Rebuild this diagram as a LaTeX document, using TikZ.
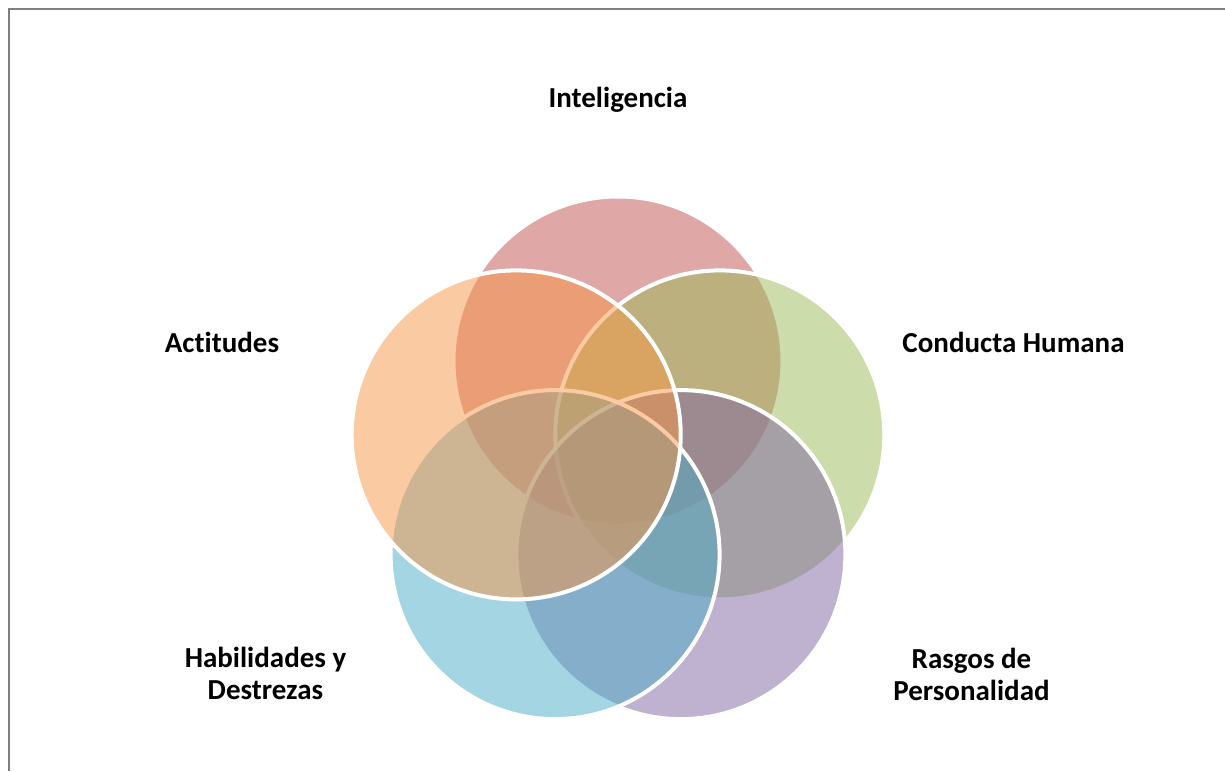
\documentclass[tikz,border=0pt]{standalone}
\usepackage{fontspec}
\setmainfont[Ligatures=NoCommon]{Carlito}
\definecolor{cred}{HTML}{C0504D}
\definecolor{cgreen}{HTML}{9BBB59}
\definecolor{cpurple}{HTML}{8064A2}
\definecolor{cblue}{HTML}{4BACC6}
\definecolor{corange}{HTML}{F79646}
\definecolor{frame}{HTML}{808080}
\begin{document}
\begin{tikzpicture}[x=1pt,y=-1pt,
  venn/.style={draw=white, line width=4pt, fill opacity=0.5, draw opacity=1},
  lbl/.style={font=\fontsize{29}{32}\selectfont\bfseries, inner sep=0pt, anchor=base, align=center}]
\useasboundingbox (0,0) rectangle (1225,771);
\fill[white] (0,0) rectangle (1225,771);
\draw[frame, line width=2pt] (8.5,771) -- (8.5,9) -- (1225,9);
% circles (drawing order: red, green, purple, blue, orange)
\coordinate (cR) at (618,361);
\coordinate (cG) at (719.8,434.9);
\coordinate (cP) at (680.9,554.6);
\coordinate (cB) at (555.1,554.6);
\coordinate (cO) at (516.2,434.9);
\draw[venn, fill=cred] (cR) circle[radius=164.5];
\draw[venn, fill=cgreen] (cG) circle[radius=164.5];
\draw[venn, fill=cpurple] (cP) circle[radius=164.5];
\draw[venn, fill=cblue] (cB) circle[radius=164.5];
\draw[venn, fill=corange] (cO) circle[radius=164.5];
% labels
\node[lbl] (tInt) at (618,107.5) {Inteligencia};
\node[lbl] (tCon) at (1013.5,352.7) {Conducta Humana};
\node[lbl] (tAct) at (222,352.7) {Ac\kern0ptti\kern0pttudes};
\node[lbl] (tHab) at (265.5,699) {Habilidades y\\Destrezas};
\node[lbl] (tRas) at (971.5,700) {Rasgos de\\Personalidad};
\end{tikzpicture}
\end{document}
